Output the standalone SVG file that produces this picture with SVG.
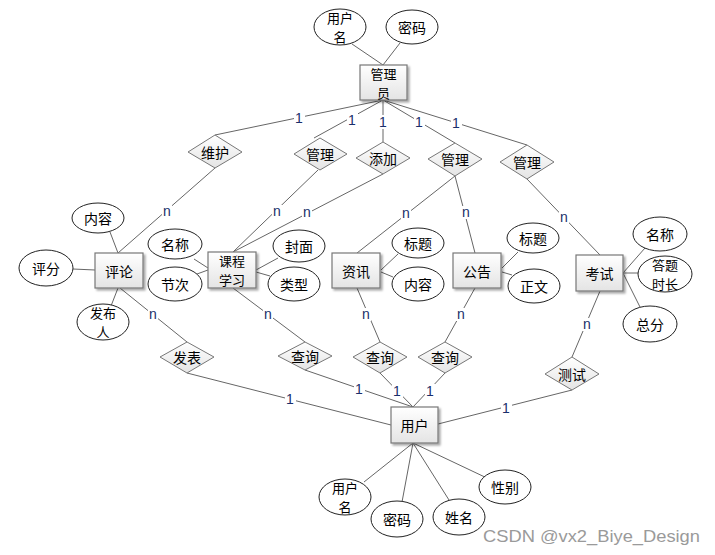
<svg xmlns="http://www.w3.org/2000/svg" width="715" height="555" viewBox="0 0 715 555">
<defs>
<linearGradient id="g" x1="0" y1="0" x2="0" y2="1">
<stop offset="0" stop-color="#ffffff"/>
<stop offset="1" stop-color="#e4e4e4"/>
</linearGradient>
<filter id="sh" x="-20%" y="-20%" width="150%" height="150%">
<feGaussianBlur in="SourceAlpha" stdDeviation="1.2"/>
<feOffset dx="2" dy="2" result="b"/>
<feComponentTransfer><feFuncA type="linear" slope="0.35"/></feComponentTransfer>
<feMerge><feMergeNode/><feMergeNode in="SourceGraphic"/></feMerge>
</filter>
</defs>
<style>
.ent{fill:url(#g);stroke:#777;stroke-width:1.2;filter:url(#sh)}
.rel{fill:url(#g);stroke:#777;stroke-width:1}
.att{fill:#fff;stroke:#222;stroke-width:1}
.t{font-family:"Noto Sans CJK SC","Liberation Sans",sans-serif;font-size:14px;fill:#000;text-anchor:middle;dominant-baseline:central}
.t2{font-family:"Noto Sans CJK SC","Liberation Sans",sans-serif;font-size:13px;fill:#000;text-anchor:middle;dominant-baseline:central}
.c line{stroke:#666;stroke-width:1}
.lb{font-family:"Liberation Sans",sans-serif;font-size:14px;fill:#1a2f6b;text-anchor:middle;dominant-baseline:central}
.wm{font-family:"Liberation Sans",sans-serif;font-size:17px;fill:#9a9a9a}
</style>
<rect width="715" height="555" fill="#fff"/>
<g class="c" id="connectors">
<line x1="352" y1="44" x2="383" y2="65"/>
<line x1="400" y1="43" x2="383" y2="65"/>
<line x1="383" y1="100" x2="215" y2="135"/>
<line x1="383" y1="100" x2="314" y2="138"/>
<line x1="383" y1="100" x2="383" y2="142"/>
<line x1="383" y1="100" x2="455" y2="143"/>
<line x1="383" y1="100" x2="527" y2="145"/>
<line x1="215" y1="168" x2="118" y2="253"/>
<line x1="318" y1="170" x2="233" y2="252"/>
<line x1="383" y1="174" x2="233" y2="252"/>
<line x1="455" y1="176" x2="357" y2="253"/>
<line x1="455" y1="176" x2="475" y2="253"/>
<line x1="527" y1="179" x2="600" y2="255"/>
<line x1="110" y1="232" x2="118" y2="253"/>
<line x1="73" y1="269" x2="95" y2="270"/>
<line x1="118" y1="288" x2="111" y2="306"/>
<line x1="120" y1="288" x2="187" y2="342"/>
<line x1="194" y1="259" x2="208" y2="268"/>
<line x1="197" y1="274" x2="208" y2="270"/>
<line x1="278" y1="258" x2="256" y2="270"/>
<line x1="256" y1="272" x2="270" y2="276"/>
<line x1="233" y1="288" x2="305" y2="342"/>
<line x1="398" y1="254" x2="381" y2="270"/>
<line x1="381" y1="272" x2="393" y2="277"/>
<line x1="357" y1="288" x2="380" y2="342"/>
<line x1="518" y1="252" x2="502" y2="268"/>
<line x1="502" y1="272" x2="512" y2="275"/>
<line x1="475" y1="288" x2="445" y2="342"/>
<line x1="623" y1="273" x2="645" y2="248"/>
<line x1="623" y1="273" x2="638" y2="273"/>
<line x1="623" y1="273" x2="640" y2="307"/>
<line x1="600" y1="291" x2="572" y2="357"/>
<line x1="187" y1="373" x2="391" y2="425"/>
<line x1="305" y1="370" x2="413" y2="407"/>
<line x1="380" y1="373" x2="413" y2="407"/>
<line x1="445" y1="373" x2="413" y2="407"/>
<line x1="572" y1="390" x2="438" y2="424"/>
<line x1="413" y1="443" x2="364" y2="482"/>
<line x1="413" y1="443" x2="402" y2="502"/>
<line x1="413" y1="443" x2="449" y2="500"/>
<line x1="413" y1="443" x2="489" y2="479"/>
</g>
<g id="labels">
<rect x="294" y="111" width="11" height="14" fill="#fff"/><text class="lb" x="299" y="118">1</text>
<rect x="347" y="113" width="11" height="14" fill="#fff"/><text class="lb" x="352" y="120">1</text>
<rect x="378" y="115" width="11" height="14" fill="#fff"/><text class="lb" x="383" y="122">1</text>
<rect x="414" y="115" width="11" height="14" fill="#fff"/><text class="lb" x="419" y="122">1</text>
<rect x="451" y="116" width="11" height="14" fill="#fff"/><text class="lb" x="456" y="123">1</text>
<rect x="162" y="205" width="10" height="13" fill="#fff"/><text class="lb" x="167" y="211">n</text>
<rect x="272" y="205" width="10" height="13" fill="#fff"/><text class="lb" x="277" y="211">n</text>
<rect x="302" y="206" width="10" height="13" fill="#fff"/><text class="lb" x="307" y="212">n</text>
<rect x="401" y="207" width="10" height="13" fill="#fff"/><text class="lb" x="406" y="213">n</text>
<rect x="461" y="206" width="10" height="13" fill="#fff"/><text class="lb" x="466" y="212">n</text>
<rect x="559" y="211" width="10" height="13" fill="#fff"/><text class="lb" x="564" y="217">n</text>
<rect x="148" y="308" width="10" height="13" fill="#fff"/><text class="lb" x="153" y="314">n</text>
<rect x="263" y="308" width="10" height="13" fill="#fff"/><text class="lb" x="268" y="314">n</text>
<rect x="361" y="308" width="10" height="13" fill="#fff"/><text class="lb" x="366" y="314">n</text>
<rect x="456" y="308" width="10" height="13" fill="#fff"/><text class="lb" x="461" y="314">n</text>
<rect x="582" y="318" width="10" height="13" fill="#fff"/><text class="lb" x="587" y="324">n</text>
<rect x="285" y="392" width="11" height="14" fill="#fff"/><text class="lb" x="290" y="399">1</text>
<rect x="354" y="382" width="11" height="14" fill="#fff"/><text class="lb" x="359" y="389">1</text>
<rect x="392" y="384" width="11" height="14" fill="#fff"/><text class="lb" x="397" y="391">1</text>
<rect x="425" y="384" width="11" height="14" fill="#fff"/><text class="lb" x="430" y="391">1</text>
<rect x="501" y="401" width="11" height="14" fill="#fff"/><text class="lb" x="506" y="408">1</text>
</g>
<g id="admin"><rect class="ent" x="360" y="65" width="47" height="35"/><text class="t2" x="383.5" y="73">管理</text><text class="t2" x="383.5" y="92">员</text></g>
<g id="admin_username"><ellipse class="att" cx="340" cy="27" rx="26" ry="18"/><text class="t2" x="340" y="17.5">用户</text><text class="t2" x="340" y="36.5">名</text></g>
<g id="admin_password"><ellipse class="att" cx="412" cy="27" rx="26" ry="17"/><text class="t" x="412" y="27">密码</text></g>
<g id="rel_weihu"><polygon class="rel" points="188,152 215,135 242,152 215,168"/><text class="t" x="215" y="152">维护</text></g>
<g id="rel_guanli1"><polygon class="rel" points="294,154 320,138 347,154 320,170"/><text class="t" x="320" y="154">管理</text></g>
<g id="rel_tianjia"><polygon class="rel" points="356,158 383,142 410,158 383,174"/><text class="t" x="383" y="158">添加</text></g>
<g id="rel_guanli2"><polygon class="rel" points="428,159 455,143 482,159 455,176"/><text class="t" x="455" y="159">管理</text></g>
<g id="rel_guanli3"><polygon class="rel" points="500,162 527,145 554,162 527,179"/><text class="t" x="527" y="162">管理</text></g>
<g id="comment"><rect class="ent" x="95" y="253" width="48" height="35"/><text class="t" x="119" y="270.5">评论</text></g>
<g id="comment_content"><ellipse class="att" cx="98" cy="218" rx="26" ry="15"/><text class="t" x="98" y="218">内容</text></g>
<g id="comment_score"><ellipse class="att" cx="46" cy="268" rx="27" ry="18"/><text class="t" x="46" y="268">评分</text></g>
<g id="comment_author"><ellipse class="att" cx="103" cy="322" rx="26" ry="18"/><text class="t2" x="103" y="312.5">发布</text><text class="t2" x="103" y="331.5">人</text></g>
<g id="course"><rect class="ent" x="208" y="252" width="48" height="36"/><text class="t2" x="232" y="260.5">课程</text><text class="t2" x="232" y="279.5">学习</text></g>
<g id="course_name"><ellipse class="att" cx="175" cy="244" rx="27" ry="15"/><text class="t" x="175" y="244">名称</text></g>
<g id="course_section"><ellipse class="att" cx="175" cy="284" rx="27" ry="17"/><text class="t" x="175" y="284">节次</text></g>
<g id="course_cover"><ellipse class="att" cx="299" cy="246" rx="26" ry="16"/><text class="t" x="299" y="246">封面</text></g>
<g id="course_type"><ellipse class="att" cx="294" cy="284" rx="26" ry="17"/><text class="t" x="294" y="284">类型</text></g>
<g id="news"><rect class="ent" x="332" y="253" width="48" height="35"/><text class="t" x="356" y="270.5">资讯</text></g>
<g id="news_title"><ellipse class="att" cx="418" cy="243" rx="26" ry="15"/><text class="t" x="418" y="243">标题</text></g>
<g id="news_content"><ellipse class="att" cx="418" cy="284" rx="26" ry="17"/><text class="t" x="418" y="284">内容</text></g>
<g id="notice"><rect class="ent" x="453" y="253" width="48" height="35"/><text class="t" x="477" y="270.5">公告</text></g>
<g id="notice_title"><ellipse class="att" cx="533" cy="238" rx="26" ry="15"/><text class="t" x="533" y="238">标题</text></g>
<g id="notice_body"><ellipse class="att" cx="534" cy="286" rx="26" ry="17"/><text class="t" x="534" y="286">正文</text></g>
<g id="exam"><rect class="ent" x="576" y="255" width="47" height="36"/><text class="t" x="599.5" y="273">考试</text></g>
<g id="exam_name"><ellipse class="att" cx="660" cy="234" rx="27" ry="17"/><text class="t" x="660" y="234">名称</text></g>
<g id="exam_duration"><ellipse class="att" cx="665" cy="274" rx="27" ry="18"/><text class="t2" x="665" y="264.5">答题</text><text class="t2" x="665" y="283.5">时长</text></g>
<g id="exam_total"><ellipse class="att" cx="650" cy="324" rx="27" ry="18"/><text class="t" x="650" y="324">总分</text></g>
<g id="rel_fabiao"><polygon class="rel" points="160,357 187,342 214,357 187,373"/><text class="t" x="187" y="357">发表</text></g>
<g id="rel_chaxun1"><polygon class="rel" points="278,356 305,342 332,356 305,370"/><text class="t" x="305" y="356">查询</text></g>
<g id="rel_chaxun2"><polygon class="rel" points="353,357 380,342 407,357 380,373"/><text class="t" x="380" y="357">查询</text></g>
<g id="rel_chaxun3"><polygon class="rel" points="418,357 445,342 472,357 445,373"/><text class="t" x="445" y="357">查询</text></g>
<g id="rel_ceshi"><polygon class="rel" points="545,374 572,357 599,374 572,390"/><text class="t" x="572" y="374">测试</text></g>
<g id="user"><rect class="ent" x="391" y="407" width="47" height="36"/><text class="t" x="414.5" y="425">用户</text></g>
<g id="user_username"><ellipse class="att" cx="345" cy="497" rx="26" ry="18"/><text class="t2" x="345" y="487.5">用户</text><text class="t2" x="345" y="506.5">名</text></g>
<g id="user_password"><ellipse class="att" cx="397" cy="519" rx="26" ry="18"/><text class="t" x="397" y="519">密码</text></g>
<g id="user_name"><ellipse class="att" cx="459" cy="517" rx="26" ry="18"/><text class="t" x="459" y="517">姓名</text></g>
<g id="user_gender"><ellipse class="att" cx="505" cy="487" rx="26" ry="17"/><text class="t" x="505" y="487">性别</text></g>
<text class="wm" x="483" y="542" textLength="217" lengthAdjust="spacingAndGlyphs">CSDN @vx2_Biye_Design</text>
</svg>
